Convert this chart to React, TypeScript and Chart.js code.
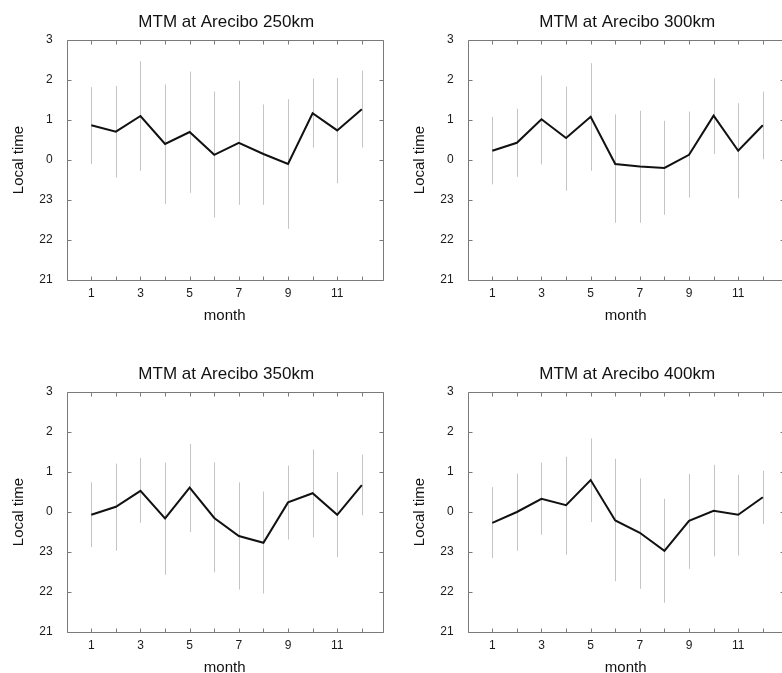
import { useEffect, useRef } from "react";
import { Chart, registerables } from "chart.js";

Chart.register(...registerables);

// ---- data (local time in hours; values > 24 wrap past midnight) ----
const months = [1, 2, 3, 4, 5, 6, 7, 8, 9, 10, 11, 12];
const yTicks = [21, 22, 23, 24, 25, 26, 27];
const xLabelMonths = [1, 3, 5, 7, 9, 11];

const titles = [
  "MTM at Arecibo 250km",
  "MTM at Arecibo 300km",
  "MTM at Arecibo 350km",
  "MTM at Arecibo 400km",
];

const mean250 = [24.87, 24.71, 25.1, 24.4, 24.7, 24.13, 24.43, 24.15, 23.9, 25.17, 24.74, 25.27];
const upper250 = [25.82, 25.85, 26.47, 25.89, 26.21, 25.71, 25.98, 25.39, 25.52, 26.03, 26.05, 26.23];
const lower250 = [23.9, 23.56, 23.73, 22.9, 23.18, 22.56, 22.88, 22.88, 22.28, 24.31, 23.42, 24.31];

const mean300 = [24.23, 24.43, 25.02, 24.55, 25.08, 23.9, 23.84, 23.8, 24.13, 25.11, 24.23, 24.87];
const upper300 = [25.08, 25.28, 26.11, 25.83, 26.42, 25.14, 25.23, 24.98, 25.21, 26.04, 25.42, 25.71];
const lower300 = [23.39, 23.58, 23.89, 23.23, 23.73, 22.43, 22.43, 22.63, 23.06, 24.15, 23.04, 24.02];

const mean350 = [23.93, 24.13, 24.53, 23.84, 24.61, 23.85, 23.4, 23.23, 24.24, 24.47, 23.93, 24.67];
const upper350 = [24.74, 25.21, 25.35, 25.23, 25.7, 25.24, 24.74, 24.51, 25.16, 25.56, 25.0, 25.43];
const lower350 = [23.12, 23.03, 23.73, 22.43, 23.5, 22.49, 22.06, 21.96, 23.31, 23.37, 22.87, 23.92];

const mean400 = [23.73, 24.0, 24.33, 24.17, 24.8, 23.79, 23.48, 23.03, 23.78, 24.03, 23.93, 24.37];
const upper400 = [24.62, 24.96, 25.23, 25.38, 25.84, 25.33, 24.84, 24.33, 24.95, 25.18, 24.93, 25.03];
const lower400 = [22.85, 23.03, 23.43, 22.93, 23.75, 22.27, 22.08, 21.73, 22.58, 22.89, 22.91, 23.7];

const means = [mean250, mean300, mean350, mean400];
const uppers = [upper250, upper300, upper350, upper400];
const lowers = [lower250, lower300, lower350, lower400];

// ---- layout ----
const panelLeft = [0, 401, 0, 401];
const panelTop = [0, 0, 352, 352];
const CW = 391;
const CH = 330;
const FONT = "'Liberation Sans', Arial, Helvetica, sans-serif";

function makePlugin(idx: number) {
  return {
    id: "frameAndBars" + idx,
    beforeDatasetsDraw(chart: any) {
      const { ctx, scales } = chart;
      const xs = scales.x;
      const ys = scales.y;
      ctx.save();
      ctx.strokeStyle = "#c4c4c4";
      ctx.lineWidth = 1;
      for (let i = 0; i < months.length; i++) {
        const px = Math.round(xs.getPixelForValue(months[i])) + 0.5;
        ctx.beginPath();
        ctx.moveTo(px, ys.getPixelForValue(uppers[idx][i]));
        ctx.lineTo(px, ys.getPixelForValue(lowers[idx][i]));
        ctx.stroke();
      }
      ctx.restore();
    },
    afterDraw(chart: any) {
      const { ctx, chartArea, scales } = chart;
      const xs = scales.x;
      const ys = scales.y;
      const l = Math.round(chartArea.left) + 0.5;
      const r = Math.round(chartArea.right) + 0.5;
      const t = Math.round(chartArea.top) + 0.5;
      const b = Math.round(chartArea.bottom) + 0.5;
      ctx.save();
      ctx.strokeStyle = "#7a7a7a";
      ctx.lineWidth = 1;
      ctx.beginPath();
      ctx.moveTo(l, t);
      ctx.lineTo(r, t);
      ctx.lineTo(r, b);
      ctx.lineTo(l, b);
      ctx.closePath();
      ctx.stroke();
      ctx.beginPath();
      for (const m of months) {
        const px = Math.round(xs.getPixelForValue(m)) + 0.5;
        ctx.moveTo(px, b);
        ctx.lineTo(px, b - 4);
        ctx.moveTo(px, t);
        ctx.lineTo(px, t + 4);
      }
      for (const v of yTicks) {
        const py = Math.round(ys.getPixelForValue(v)) + 0.5;
        ctx.moveTo(l, py);
        ctx.lineTo(l + 4, py);
        ctx.moveTo(r, py);
        ctx.lineTo(r - 4, py);
      }
      ctx.stroke();
      // panel title, centred over the plot area
      ctx.fillStyle = "#111";
      ctx.font = "17px " + FONT;
      ctx.textAlign = "center";
      ctx.textBaseline = "middle";
      ctx.fillText(titles[idx], (chartArea.left + chartArea.right) / 2 + 1.5, chartArea.top - 18);
      ctx.restore();
    },
  };
}

function Panel({ idx }: { idx: number }) {
  const ref = useRef<HTMLCanvasElement | null>(null);
  useEffect(() => {
    if (!ref.current) return;
    const chart = new Chart(ref.current, {
      type: "line",
      data: {
        datasets: [
          {
            data: months.map((m, i) => ({ x: m, y: means[idx][i] })),
            borderColor: "#111111",
            borderWidth: 2,
            pointRadius: 0,
            tension: 0,
            fill: false,
          },
        ],
      },
      options: {
        animation: false,
        responsive: false,
        devicePixelRatio: 1,
        layout: { padding: { left: 0, right: 8.3, top: 40, bottom: 0 } },
        plugins: {
          legend: { display: false },
          tooltip: { enabled: false },
          title: { display: false },
        },
        scales: {
          x: {
            type: "linear",
            min: 0,
            max: 12.85,
            grid: { display: false, drawTicks: false },
            border: { display: false },
            afterFit: (s: any) => {
              s.height = 50;
            },
            ticks: {
              stepSize: 1,
              autoSkip: false,
              maxRotation: 0,
              padding: 6.3,
              color: "#1a1a1a",
              font: { family: FONT, size: 12 },
              callback: (v: any) => (xLabelMonths.includes(v) ? String(v) : ""),
            },
            title: {
              display: true,
              text: "month",
              color: "#111",
              font: { family: FONT, size: 15 },
              padding: { top: 0, bottom: 5.6 },
            },
          },
          y: {
            type: "linear",
            min: 21,
            max: 27,
            grid: { display: false, drawTicks: false },
            border: { display: false },
            afterFit: (s: any) => {
              s.width = 66.7;
            },
            ticks: {
              stepSize: 1,
              padding: 14,
              color: "#1a1a1a",
              font: { family: FONT, size: 12 },
              callback: (v: any) => String(Number(v) % 24),
            },
            title: {
              display: true,
              text: "Local time",
              color: "#111",
              font: { family: FONT, size: 15 },
              padding: { top: 9.7, bottom: 0 },
            },
          },
        },
      },
      plugins: [makePlugin(idx)],
    } as any);
    return () => chart.destroy();
  }, [idx]);
  return (
    <canvas
      ref={ref}
      width={CW}
      height={CH}
      style={{
        position: "absolute",
        left: panelLeft[idx],
        top: panelTop[idx],
        width: CW,
        height: CH,
      }}
    />
  );
}

export default function App() {
  return (
    <div
      style={{
        position: "absolute",
        left: 0,
        top: 0,
        width: 782,
        height: 673,
        overflow: "hidden",
        background: "#fff",
      }}
    >
      {[0, 1, 2, 3].map((i) => (
        <Panel key={i} idx={i} />
      ))}
    </div>
  );
}
